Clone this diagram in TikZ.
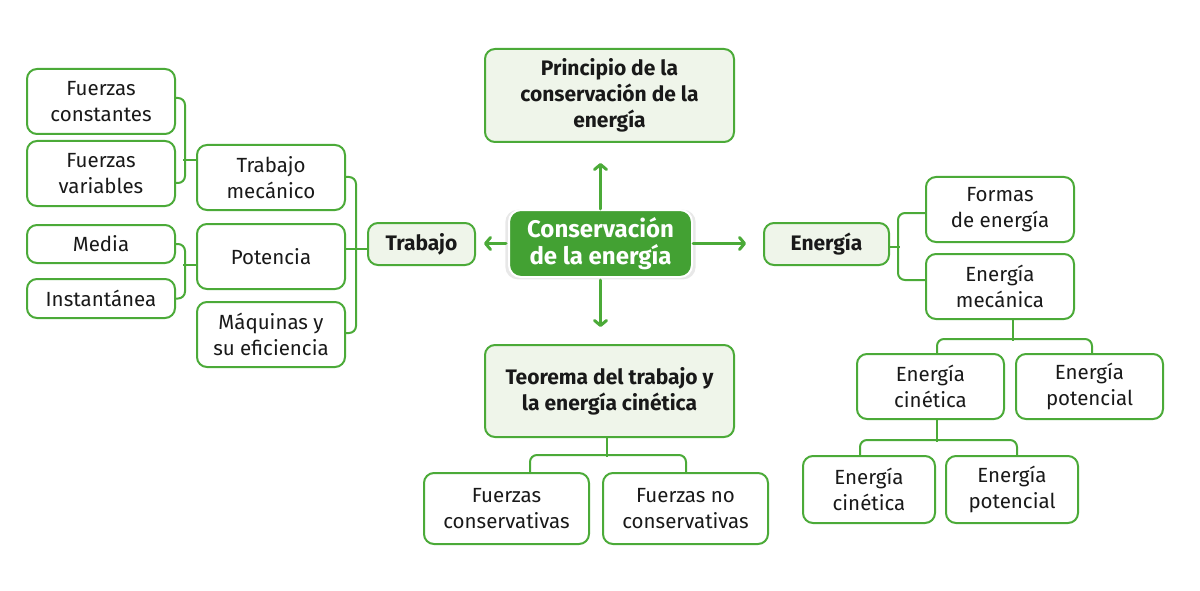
\documentclass[tikz,border=0pt]{standalone}
\usepackage{fontspec}
\setmainfont{Fira Sans}
\usetikzlibrary{arrows.meta,shadows}
\definecolor{gline}{HTML}{4BAA38}
\definecolor{gfill}{HTML}{EFF5EA}
\definecolor{gcenter}{HTML}{43A133}
\tikzset{
  box/.style={draw=gline, line width=2pt, rounded corners=10pt, fill=white, inner sep=0pt,
    align=center, font=\fontsize{20.5}{25.7}\selectfont, text=black!90},
  hbox/.style={box, fill=gfill, font=\fontsize{21}{25.7}\selectfont\bfseries},
  cbox/.style={fill=gcenter, draw=white, line width=2pt, rounded corners=12pt, inner sep=0pt,
    align=center, text=white, font=\fontsize{24}{27}\selectfont\bfseries,
    drop shadow={opacity=0.18, shadow xshift=0pt, shadow yshift=-1pt, shadow scale=1.04}},
  conn/.style={draw=gline, line width=2pt, rounded corners=7pt},
  arr/.style={draw=gline, line width=3pt, line cap=round,
    -{Straight Barb[length=5pt,width=12pt,line width=3pt,round]}},
}
\newcommand{\bx}[6]{\node[#1, minimum width=#4pt, minimum height=#5pt] (#2) at (#3) {#6};}
\begin{document}
\begin{tikzpicture}[x=1pt,y=-1pt]
\useasboundingbox (0,0) rectangle (1200,591);
% left column
\bx{box}{fc}{101,101.5}{148}{65}{Fuerzas\\constantes}
\bx{box}{fv}{101,173.5}{148}{65}{Fuerzas\\variables}
\bx{box}{me}{101,244}{148}{38}{Media}
\bx{box}{in}{101,298.5}{148}{39}{Instantánea}
\bx{box}{tm}{271,177.5}{148}{65}{Trabajo\\mecánico}
\bx{box}{po}{271,256.5}{148}{65}{Potencia}
\bx{box}{mq}{271,334.5}{148}{65}{Máquinas y\\su eficiencia}
\bx{hbox}{tr}{421.5,244}{107}{42}{Trabajo}
% center
\bx{cbox}{ce}{600.5,243.5}{183}{67}{Conservación\\de la energía}
\bx{hbox}{pr}{609.5,95.5}{249}{93}{Principio de la\\conservación de la\\energía}
\bx{hbox}{te}{609.5,391}{249}{92}{Teorema del trabajo y\\la energía cinética}
\bx{box}{fcs}{506.5,508.5}{165}{71}{Fuerzas\\conservativas}
\bx{box}{fnc}{685.5,508.5}{165}{71}{Fuerzas no\\conservativas}
% right
\bx{hbox}{en}{826.5,244}{125}{42}{Energía}
\bx{box}{fo}{1000,209.5}{148}{65}{Formas\\de energía}
\bx{box}{em}{1000,286.5}{148}{65}{Energía\\mecánica}
\bx{box}{ec}{930.5,386.5}{147}{65}{Energía\\cinética}
\bx{box}{ep}{1089.5,386.5}{147}{65}{Energía\\potencial}
\bx{box}{ecb}{869,489.5}{132}{67}{Energía\\cinética}
\bx{box}{epb}{1012,489.5}{132}{67}{Energía\\potencial}
% arrows
\draw[arr, shorten >=20pt] (ce.north) -- (ce.north |- pr.south);
\draw[arr, shorten >=17pt, shorten <=2pt] (ce.south) -- (ce.south |- te.north);
\draw[arr, shorten >=8pt, shorten <=2pt] (ce.west) -- (ce.west -| tr.east);
\draw[arr, shorten >=17pt] (ce.east) -- (ce.east -| en.west);
% left brackets
\draw[conn] ([yshift=3.5pt]fc.east) -- ++(9,0) |- ([yshift=-9.5pt]fv.east);
\draw[conn] ([yshift=17.5pt]tm.west) -- ++(-13,0);
\draw[conn] (me.east) -- ++(9,0) |- (in.east);
\draw[conn] ([yshift=-8.5pt]po.west) -- ++(-13,0);
\draw[conn] ([yshift=0.5pt]tm.east) -- ++(10,0) |- ([yshift=1.5pt]mq.east);
\draw[conn] ([yshift=7.5pt]po.east) -- ([yshift=-5pt]tr.west);
% right brackets
\draw[conn] ([yshift=-3.5pt]fo.west) -- ++(-27,0) |- ([yshift=6.5pt]em.west);
\draw[conn] ([yshift=-3pt]en.east) -- ++(10,0);
\draw[conn] ([xshift=13pt]em.south) -- ++(0,21);
\draw[conn] ([xshift=6.5pt]ec.north) -- ++(0,-14) -| ([xshift=2.5pt]ep.north);
\draw[conn] ([xshift=6pt]ec.south) -- ++(0,22);
\draw[conn] ([xshift=-9pt]ecb.north) -- ++(0,-15) -| ([xshift=5pt]epb.north);
% bottom bracket
\draw[conn] ([xshift=-2.5pt]te.south) -- ++(0,19);
\draw[conn] ([xshift=23.5pt]fcs.north) -- ++(0,-17) -| ([xshift=0.5pt]fnc.north);
\end{tikzpicture}
\end{document}
